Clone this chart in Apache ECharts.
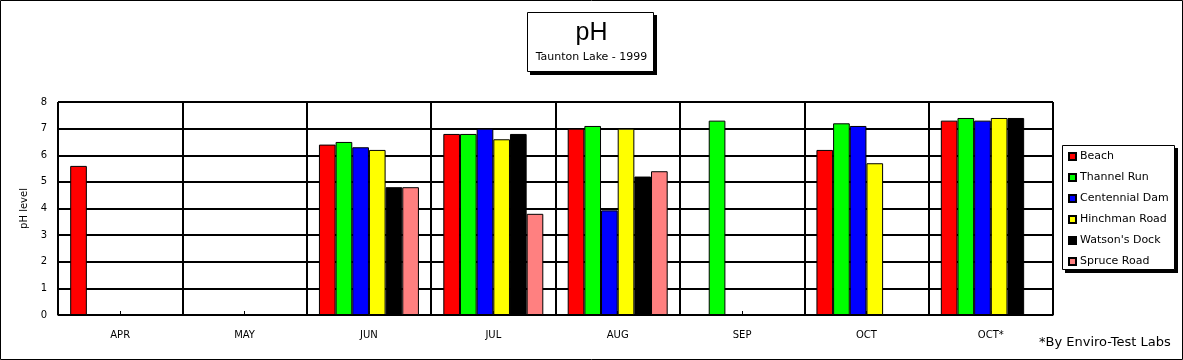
<!DOCTYPE html>
<html><head><meta charset="utf-8">
<script src="https://cdn.jsdelivr.net/npm/echarts@6/dist/echarts.min.js"></script>
<style>html,body{margin:0;padding:0;background:#fff}#c{width:1183px;height:360px}</style>
</head><body><div id="c"></div>
<script>
const categories = ['APR','MAY','JUN','JUL','AUG','SEP','OCT','OCT*'];
const seriesNames = ['Beach','Thannel Run','Centennial Dam','Hinchman Road',"Watson's Dock",'Spruce Road'];
const beach      = [5.6, null, 6.4, 6.8, 7.0, null, 6.2, 7.3];
const thannelRun = [null, null, 6.5, 6.8, 7.1, 7.3, 7.2, 7.4];
const centennial = [null, null, 6.3, 7.0, 3.93, null, 7.1, 7.3];
const hinchman   = [null, null, 6.2, 6.6, 7.0, null, 5.7, 7.4];
const watsons    = [null, null, 4.8, 6.8, 5.2, null, null, 7.4];
const spruce     = [null, null, 4.8, 3.8, 5.4, null, null, null];
const yTicks = [0,1,2,3,4,5,6,7,8];
const colors = ['#ff0000','#00ff00','#0000ff','#ffff00','#000000','#ff8080'];
const allData = [beach, thannelRun, centennial, hinchman, watsons, spruce];

const font = '"DejaVu Sans", Verdana, sans-serif';
const fontA = 'Arial, "Liberation Sans", sans-serif';
const chart = echarts.init(document.getElementById('c'), null, {renderer:'canvas'});
chart.setOption({
  animation: false,
  textStyle: {fontFamily: font},
  title: {
    text: 'pH', subtext: 'Taunton Lake - 1999',
    left: 'center', top: 20,
    padding: 0, itemGap: 5,
    textStyle: {fontFamily: fontA, fontSize: 25, fontWeight: 'normal', color: '#000', lineHeight: 26},
    subtextStyle: {fontFamily: font, fontSize: 11, color: '#000', lineHeight: 13}
  },
  legend: {
    orient: 'vertical', left: 1068, top: 150,
    data: seriesNames,
    itemWidth: 7, itemHeight: 7, itemGap: 8,
    padding: 0,
    textStyle: {fontFamily: font, fontSize: 11, color: '#000', lineHeight: 13, padding: [0,0,0,-1]},
    icon: 'rect'
  },
  grid: {left: 58, right: 130, top: 102, bottom: 45, containLabel: false},
  xAxis: {
    type: 'category', data: categories,
    axisLine: {show: true, lineStyle: {color: '#000', width: 1}},
    axisTick: {show: true, inside: true, alignWithLabel: true, length: 4, lineStyle: {color: '#000'}},
    axisLabel: {color: '#000', fontSize: 10, fontFamily: font, margin: 15},
    splitLine: {show: true, lineStyle: {color: '#000', width: 2}}
  },
  yAxis: {
    type: 'value', min: 0, max: 8, interval: 1,
    name: 'pH level', nameLocation: 'middle', nameGap: 21, nameRotate: 90,
    nameTextStyle: {color: '#000', fontSize: 10, fontFamily: font},
    axisLine: {show: true, lineStyle: {color: '#000', width: 1}},
    axisTick: {show: false},
    axisLabel: {color: '#000', fontSize: 10, fontFamily: font, margin: 11,
      formatter: v => yTicks.includes(v) ? String(v) : ''},
    splitLine: {show: true, lineStyle: {color: '#000', width: 2}}
  },
  series: seriesNames.map((n, i) => ({
    name: n, type: 'bar', data: allData[i],
    barGap: '0%', barCategoryGap: '19.6%',
    itemStyle: {color: colors[i], borderColor: '#000', borderWidth: 1}
  })),
  graphic: [
    {type: 'rect', z: 0, silent: true, shape: {x: 0.5, y: 0.5, width: 1182, height: 359},
     style: {fill: 'none', stroke: '#000', lineWidth: 1}},
    // title box
    {type: 'rect', z: 0, silent: true, shape: {x: 530, y: 15, width: 127, height: 60},
     style: {fill: '#000'}},
    {type: 'rect', z: 0, silent: true, shape: {x: 527.5, y: 12.5, width: 126, height: 59},
     style: {fill: '#fff', stroke: '#000', lineWidth: 1}},
    // legend box
    {type: 'rect', z: 0, silent: true, shape: {x: 1065, y: 148, width: 113, height: 125},
     style: {fill: '#000'}},
    {type: 'rect', z: 0, silent: true, shape: {x: 1062.5, y: 145.5, width: 112, height: 124},
     style: {fill: '#fff', stroke: '#000', lineWidth: 1}},
    {type: 'text', z: 1, left: 1039, top: 336,
     style: {text: '*By Enviro-Test Labs', fill: '#000', font: '13px ' + font}}
  ]
});
</script></body></html>
